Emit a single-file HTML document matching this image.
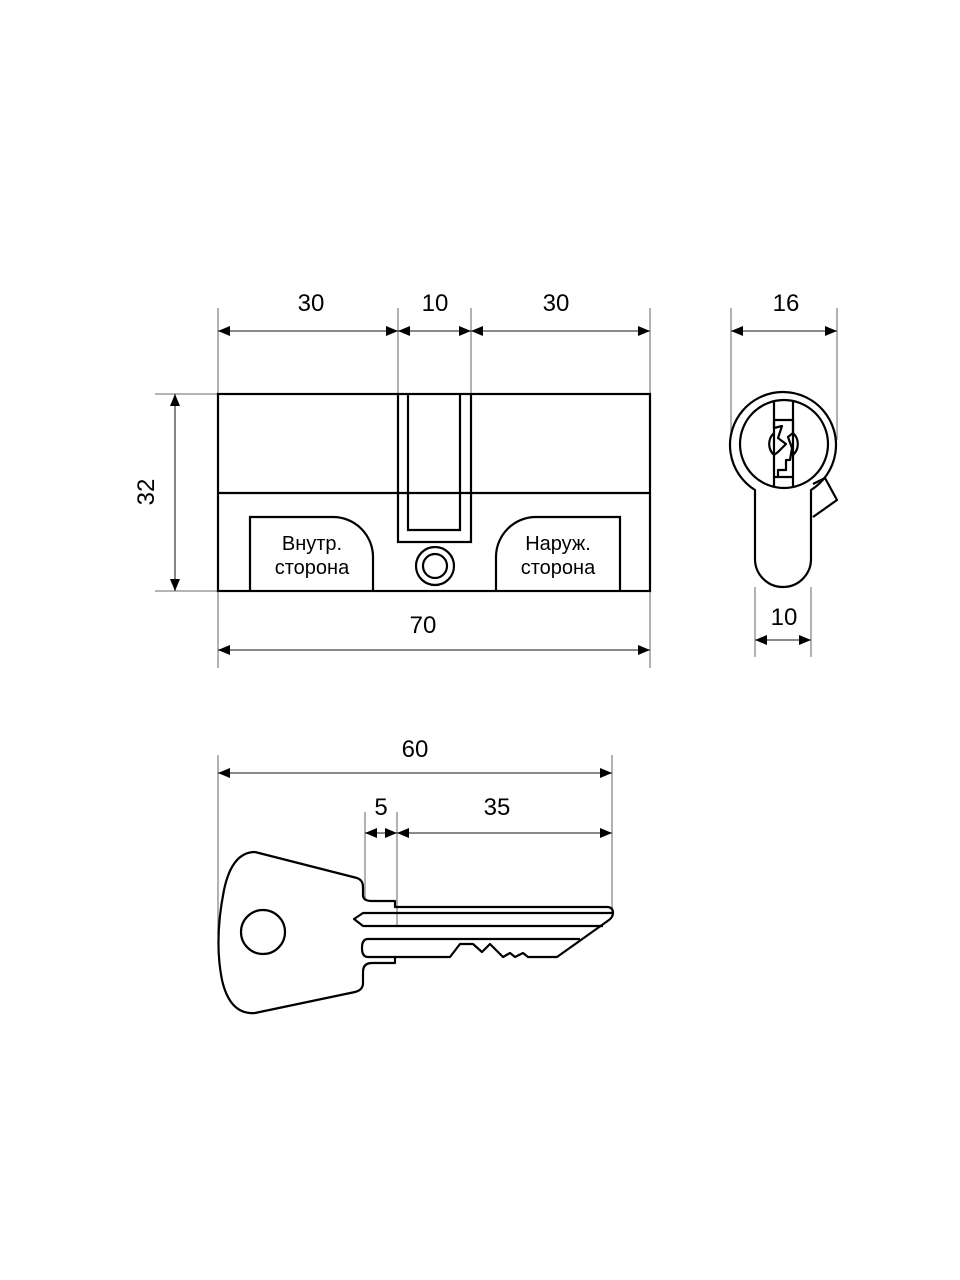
<!DOCTYPE html>
<html><head><meta charset="utf-8"><style>
html,body{margin:0;padding:0;background:#fff;}
svg{display:block;}
text{font-family:"Liberation Sans",Arial,sans-serif;fill:#000;}
</style></head><body>
<svg width="960" height="1280" viewBox="0 0 960 1280" xmlns="http://www.w3.org/2000/svg">
<defs>
<marker id="a" viewBox="0 0 12 10" refX="12" refY="5" markerWidth="12" markerHeight="10" markerUnits="userSpaceOnUse" orient="auto-start-reverse"><path d="M0,0 L12,5 L0,10 Z" fill="#000"/></marker>
</defs>
<g stroke="#888" stroke-width="1.3" fill="none">
<line x1="218" y1="308" x2="218" y2="394"/>
<line x1="398" y1="308" x2="398" y2="394"/>
<line x1="471" y1="308" x2="471" y2="394"/>
<line x1="650" y1="308" x2="650" y2="394"/>
<line x1="155" y1="394" x2="218" y2="394"/>
<line x1="155" y1="591" x2="218" y2="591"/>
<line x1="218" y1="591" x2="218" y2="668"/>
<line x1="650" y1="591" x2="650" y2="668"/>
<line x1="731" y1="308" x2="731" y2="440"/>
<line x1="837" y1="308" x2="837" y2="440"/>
<line x1="755" y1="587" x2="755" y2="657"/>
<line x1="811" y1="587" x2="811" y2="657"/>
<line x1="218" y1="755" x2="218" y2="935"/>
<line x1="612" y1="755" x2="612" y2="913"/>
<line x1="365" y1="812" x2="365" y2="900"/>
<line x1="397" y1="812" x2="397" y2="926"/>
</g>
<g stroke="#444" stroke-width="1.3" fill="none">
<line x1="218" y1="331" x2="398" y2="331" marker-start="url(#a)" marker-end="url(#a)"/>
<line x1="398" y1="331" x2="471" y2="331" marker-start="url(#a)" marker-end="url(#a)"/>
<line x1="471" y1="331" x2="650" y2="331" marker-start="url(#a)" marker-end="url(#a)"/>
<line x1="175" y1="394" x2="175" y2="591" marker-start="url(#a)" marker-end="url(#a)"/>
<line x1="218" y1="650" x2="650" y2="650" marker-start="url(#a)" marker-end="url(#a)"/>
<line x1="731" y1="331" x2="837" y2="331" marker-start="url(#a)" marker-end="url(#a)"/>
<line x1="755" y1="640" x2="811" y2="640" marker-start="url(#a)" marker-end="url(#a)"/>
<line x1="218" y1="773" x2="612" y2="773" marker-start="url(#a)" marker-end="url(#a)"/>
<line x1="365" y1="833" x2="397" y2="833" marker-start="url(#a)" marker-end="url(#a)"/>
<line x1="397" y1="833" x2="612" y2="833" marker-start="url(#a)" marker-end="url(#a)"/>
</g>
<g font-size="24" text-anchor="middle">
<text x="311" y="311">30</text>
<text x="435" y="311">10</text>
<text x="556" y="311">30</text>
<text x="786" y="311">16</text>
<text x="423" y="633">70</text>
<text x="784" y="625">10</text>
<text x="415" y="757">60</text>
<text x="381" y="815">5</text>
<text x="497" y="815">35</text>
<text transform="translate(154,492) rotate(-90)">32</text>
</g>
<g stroke="#000" stroke-width="2.2" fill="none">
<rect x="218" y="394" width="432" height="197"/>
<line x1="218" y1="493" x2="650" y2="493"/>
<path d="M398,394 V542 H471 V394"/>
<path d="M408,394 V530 H460 V394"/>
<circle cx="435" cy="566" r="19"/>
<circle cx="435" cy="566" r="12"/>
<path d="M250,591 V517 H333 A40,40 0 0 1 373,557 V591"/>
<path d="M620,591 V517 H536 A40,40 0 0 0 496,557 V591"/>
</g>
<g font-size="20" text-anchor="middle">
<text x="312" y="550">Внутр.</text>
<text x="312" y="574">сторона</text>
<text x="558" y="550">Наруж.</text>
<text x="558" y="574">сторона</text>
</g>
<g stroke="#000" stroke-width="2.2" fill="none" stroke-linejoin="round">
<path d="M811,490 A53,53 0 1 0 755,490 V559 A28,28 0 0 0 811,559 Z" fill="#fff"/>
<path d="M813,484 L825,478 L837,500 L813,517"/>
<circle cx="784" cy="444" r="44"/>
<line x1="774" y1="402" x2="774" y2="486"/>
<line x1="793" y1="402" x2="793" y2="486"/>
<line x1="774" y1="420" x2="793" y2="420"/>
<line x1="774" y1="477" x2="793" y2="477"/>
<path d="M774,433 A15,15 0 0 0 774,455"/>
<path d="M793,433 A15,15 0 0 1 793,455"/>
<path d="M774,420 V428 L782,426 L778,438 L786,444 L778,452 L774,455"/>
<path d="M793,420 V433 L788,437 L792,448 L790,460 L786,460 V470 L778,470 V477"/>
</g>
<g stroke="#000" stroke-width="2.2" fill="none" stroke-linejoin="round">
<path d="M255,852 L357,878 Q363,880 363,887 V895 Q363,901 372,901 H395 V907 H607 Q613,907 613,913 Q613,917 609,920 L557,957 H528 L523,953 L515,957 L510,953 L503,957 L490,944 L482,952 L473,944 H460 L450,957 H368 Q362,957 362,948 Q362,939 368,939 H580 M395,957 V963 H372 Q363,963 363,972 V983 Q363,990 355,992 L255,1013 Q230,1015 222,980 Q214,940 224,890 Q232,852 255,852"/>
<path d="M603,926 H363 L354,919 L363,913 H612"/>
<circle cx="263" cy="932" r="22"/>
</g>
</svg>
</body></html>
